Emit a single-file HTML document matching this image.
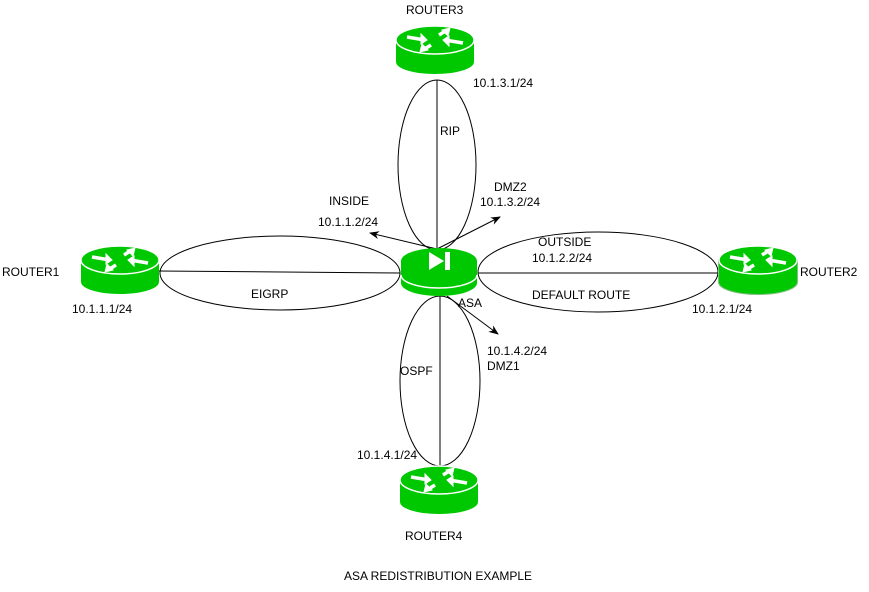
<!DOCTYPE html>
<html><head><style>body{margin:0;background:#fff}svg text{font-family:"Liberation Sans",sans-serif;font-size:12px;fill:#000}</style></head><body>
<svg width="869" height="587" xmlns="http://www.w3.org/2000/svg">
<defs>
<marker id="a" markerWidth="10" markerHeight="8" refX="9" refY="4" orient="auto" markerUnits="userSpaceOnUse"><path d="M0,0L10,4L0,8L3,4z" fill="#000"/></marker>
<g id="r">
<path d="M-39,0 V22 A39,12 0 0 0 39,22 V0 Z" fill="#00c800"/>
<ellipse cx="0" cy="0" rx="39" ry="14" fill="#00c800" stroke="#fff" stroke-width="1.5"/>
<g stroke="#fff" stroke-width="3.5" fill="#fff">
<path d="M-28,-3 L-10,0" /><path d="M-8,0 l-6,-6 l0,10z" stroke-width="1"/>
<path d="M28,3 L10,0"/><path d="M8,0 l6,6 l0,-10z" stroke-width="1"/>
<path d="M-4,5 L-12,10"/><path d="M-15,12 l2,-8 l6,6z" stroke-width="1"/>
<path d="M4,-5 L12,-10"/><path d="M15,-12 l-2,8 l-6,-6z" stroke-width="1"/>
</g>
</g>
</defs>
<g fill="none" stroke="#000" stroke-width="1">
<ellipse cx="437" cy="165" rx="39" ry="85"/>
<ellipse cx="280" cy="273" rx="120" ry="37"/>
<ellipse cx="598" cy="272" rx="120" ry="40"/>
<ellipse cx="440" cy="381" rx="40" ry="85"/>
<line x1="437" y1="80" x2="437" y2="250"/>
<line x1="158" y1="271" x2="400" y2="273"/>
<line x1="478" y1="273" x2="718" y2="273"/>
<line x1="440" y1="296" x2="440" y2="466"/>
<line x1="437" y1="249" x2="370" y2="233" marker-end="url(#a)"/>
<line x1="437" y1="249" x2="500" y2="217" marker-end="url(#a)"/>
<line x1="447" y1="296" x2="498" y2="334" marker-end="url(#a)"/>
</g>
<use href="#r" x="435" y="40"/>
<use href="#r" x="120" y="260"/>
<use href="#r" x="439" y="480"/>
<g>
<path d="M-39,0 V22 A39,12 0 0 0 39,22 V0 Z" transform="translate(758,260)" fill="#00c800" stroke="#80c080" stroke-width="2"/>
<use href="#r" x="758" y="260"/>
</g>
<g transform="translate(439,261)">
<path d="M-38,0 V22 A38,13 0 0 0 38,22 V0 Z" fill="#00c800"/>
<path d="M-38,14 A38,13 0 0 0 38,14" fill="none" stroke="#fff" stroke-width="1.5"/>
<ellipse cx="0" cy="0" rx="38" ry="13" fill="#00c800"/>
<path d="M-10,-9 L5,0 L-10,9Z" fill="#fff"/><rect x="6" y="-9" width="5" height="18" fill="#fff"/>
</g>
<text x="406" y="14">ROUTER3</text>
<text x="473" y="87">10.1.3.1/24</text>
<text x="440" y="135">RIP</text>
<text x="494" y="191">DMZ2</text>
<text x="480" y="206">10.1.3.2/24</text>
<text x="329" y="205">INSIDE</text>
<text x="318" y="226">10.1.1.2/24</text>
<text x="538" y="246">OUTSIDE</text>
<text x="532" y="262">10.1.2.2/24</text>
<text x="532" y="299">DEFAULT ROUTE</text>
<text x="2" y="276">ROUTER1</text>
<text x="72" y="313">10.1.1.1/24</text>
<text x="251" y="298">EIGRP</text>
<text x="800" y="276">ROUTER2</text>
<text x="692" y="313">10.1.2.1/24</text>
<text x="458" y="307">ASA</text>
<text x="487" y="355">10.1.4.2/24</text>
<text x="487" y="370">DMZ1</text>
<text x="400" y="375">OSPF</text>
<text x="357" y="459">10.1.4.1/24</text>
<text x="405" y="540">ROUTER4</text>
<text x="344" y="580">ASA REDISTRIBUTION EXAMPLE</text>
</svg>
</body></html>
